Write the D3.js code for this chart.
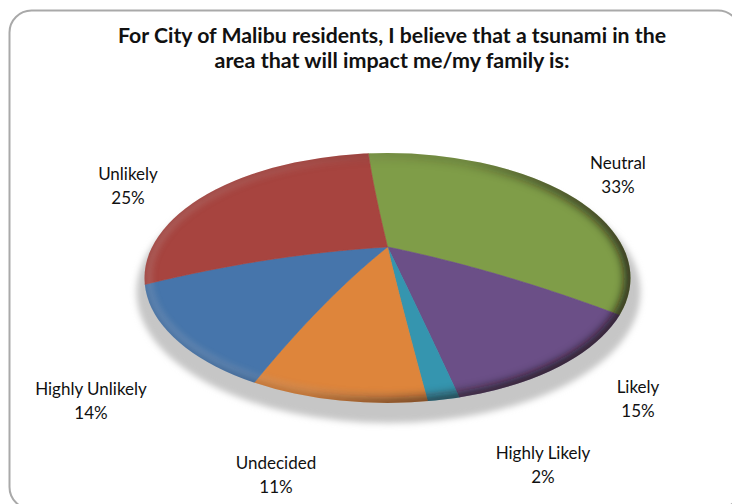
<!DOCTYPE html>
<html><head><meta charset="utf-8">
<script src="https://cdnjs.cloudflare.com/ajax/libs/d3/7.8.5/d3.min.js"></script>
<style>html,body{margin:0;padding:0;background:#fff;overflow:hidden}svg{display:block}text{font-family:Lato,"Open Sans",sans-serif;fill:#111}</style>
</head><body>
<script>
const categories = ["Neutral","Likely","Highly Likely","Undecided","Highly Unlikely","Unlikely"];
const percents = [33,15,2,11,14,25];
const sliceColors = ["#7f9d48","#6b4f87","#3595af","#de853b","#4675ab","#a7443f"];
const titleLines = ["For City of Malibu residents, I believe that a tsunami in the","area that will impact me/my family is:"];
const labelLayout = [[618,169],[638,393],[543,459],[276,469],[91,395],[128,180]];

const W=732,H=504;
const svg=d3.select("body").append("svg").attr("width",W).attr("height",H);
const defs=svg.append("defs");

// Ellipse of the disc rim, perspective and dome of the 3-D look
const cx=387.5,cy=278,rx=243,ry=125,persp=-0.0724,skew=0.035,dome=22;
const sx=d3.scaleLinear().domain([-1,1]).range([cx-rx,cx+rx]);
const sy=d3.scaleLinear().domain([-1,1]).range([cy-ry,cy+ry]);
function project(r,a){
  const u=r*Math.sin(a),v=-r*Math.cos(a),w=1+persp*v;
  const X=u*Math.sqrt(1-persp*persp)/w, Y=(v+persp)/w, w2=1+skew*X;
  const lift=1-r*r;
  return [sx((X+skew)/w2)-skew*rx*lift, sy(Y*Math.sqrt(1-skew*skew)/w2)-dome*lift];
}

svg.append("rect").attr("x",9.5).attr("y",10.5).attr("width",730.5).attr("height",498.5).attr("rx",22)
  .attr("fill","#fff").attr("stroke","#a9a9a9").attr("stroke-width",2);

titleLines.forEach((t,i)=>svg.append("text").attr("x",392).attr("y",43+i*25).attr("text-anchor","middle")
  .attr("font-size",20).attr("font-weight",700).attr("textLength",i?355:548).attr("lengthAdjust","spacingAndGlyphs").text(t));

const blur=(id,s)=>defs.append("filter").attr("id",id).attr("x","-10%").attr("y","-10%").attr("width","120%").attr("height","120%")
  .append("feGaussianBlur").attr("stdDeviation",s);
blur("b4",4.5);blur("b3",3);

// shadow
svg.append("ellipse").attr("cx",cx+1).attr("cy",cy+14).attr("rx",rx+9).attr("ry",ry+6)
  .attr("fill","#c6c6c6").attr("filter","url(#b3)");

defs.append("clipPath").attr("id","disc").append("ellipse").attr("cx",cx).attr("cy",cy).attr("rx",rx).attr("ry",ry);

const start=-7*Math.PI/180;
const pie=d3.pie().sort(null).startAngle(start).endAngle(start+2*Math.PI);
const arcs=pie(percents);
const line=d3.line();
const g=svg.append("g").attr("clip-path","url(#disc)");
g.selectAll("path.slice").data(arcs).join("path").attr("class","slice")
 .attr("fill",(d,i)=>sliceColors[i]).attr("stroke",(d,i)=>sliceColors[i]).attr("stroke-width",0.6)
 .attr("d",d=>{
   const pts=[];
   const n=60,m=Math.max(8,Math.ceil((d.endAngle-d.startAngle)*40));
   d3.range(n+1).forEach(k=>pts.push(project(k/n,d.startAngle)));
   d3.range(1,m+1).forEach(k=>pts.push(project(1.02,d.startAngle+(d.endAngle-d.startAngle)*k/m)));
   d3.range(n,-1,-1).forEach(k=>pts.push(project(k/n,d.endAngle)));
   return line(pts)+"Z";
 });

// rim shading
const lg=(id,x1,y1,x2,y2,stops)=>{const l=defs.append("linearGradient").attr("id",id).attr("gradientUnits","userSpaceOnUse")
  .attr("x1",x1).attr("y1",y1).attr("x2",x2).attr("y2",y2);
  stops.forEach(s=>l.append("stop").attr("offset",s[0]).attr("stop-color","#fff").attr("stop-opacity",s[1]));};
lg("darkGrad",270,215,530,395,[[0,0.1],[0.42,0.25],[0.65,0.65],[1,1]]);
lg("lightGrad",480,300,220,390,[[0,0],[0.45,0.6],[1,1]]);
defs.append("mask").attr("id","darkMask").attr("maskUnits","userSpaceOnUse").attr("x",0).attr("y",0).attr("width",W).attr("height",H)
  .append("rect").attr("width",W).attr("height",H).attr("fill","url(#darkGrad)");
defs.append("mask").attr("id","lightMask").attr("maskUnits","userSpaceOnUse").attr("x",0).attr("y",0).attr("width",W).attr("height",H)
  .append("rect").attr("width",W).attr("height",H).attr("fill","url(#lightGrad)");
g.append("g").attr("mask","url(#lightMask)").append("ellipse").attr("cx",cx).attr("cy",cy-1).attr("rx",rx-4).attr("ry",ry-5)
  .attr("fill","none").attr("stroke","#fff").attr("stroke-width",7).attr("stroke-opacity",0.16).attr("filter","url(#b3)");
g.append("g").attr("mask","url(#darkMask)").append("ellipse").attr("cx",cx).attr("cy",cy).attr("rx",rx).attr("ry",ry)
  .attr("fill","none").attr("stroke","#1a0d10").attr("stroke-width",12).attr("stroke-opacity",0.75).attr("filter","url(#b4)");

// labels
categories.forEach((c,i)=>{
  const t=svg.append("text").attr("text-anchor","middle").attr("font-size",17);
  t.append("tspan").attr("x",labelLayout[i][0]).attr("y",labelLayout[i][1]).text(c);
  t.append("tspan").attr("x",labelLayout[i][0]).attr("y",labelLayout[i][1]+24).text(percents[i]+"%");
});
</script>
</body></html>
